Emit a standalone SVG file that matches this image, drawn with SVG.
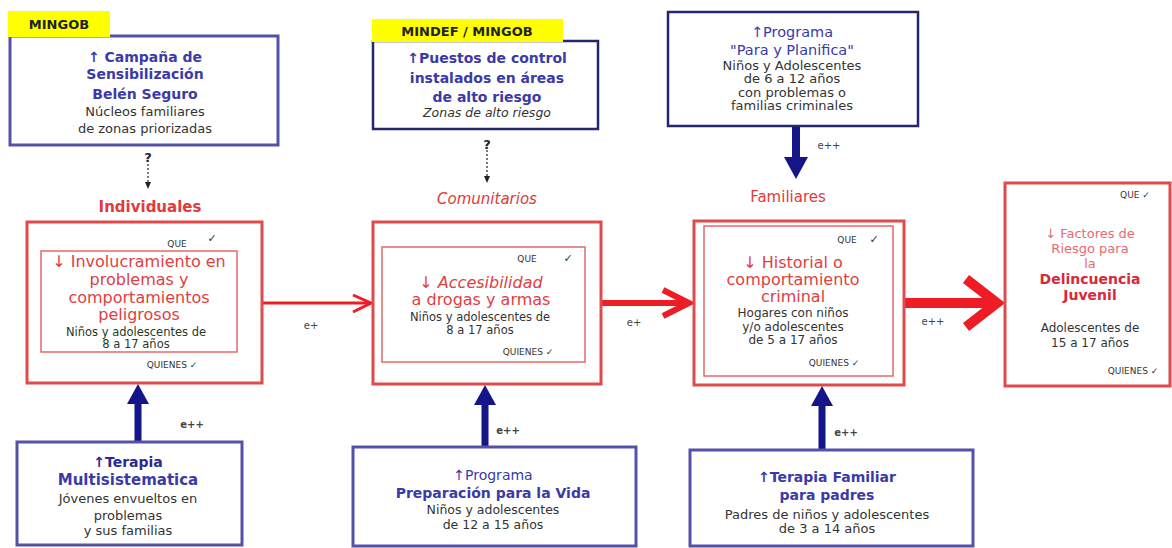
<svg xmlns="http://www.w3.org/2000/svg" width="1172" height="548" viewBox="0 0 1172 548">
<style>
text{font-family:"DejaVu Sans","Liberation Sans",sans-serif;text-anchor:middle}
.bbox{fill:#fff;stroke:#5252a8;stroke-width:3}
.dbox{fill:#fff;stroke:#26266c;stroke-width:2.5}
.rbox{fill:#fff;stroke:#e04a4a;stroke-width:3}
.ibox{fill:none;stroke:#e26a6a;stroke-width:1.5}
.tag{fill:#ffff00}
.tagt{font-size:13px;font-weight:bold;fill:#222}
.bt{font-size:14px;font-weight:bold;fill:#3a3aa8}
.bt2{font-size:14.5px;fill:#3a3aa8}
.body{font-size:13px;fill:#333}
.rt{font-size:16px;fill:#e04040}
.cat{font-size:15px;font-weight:bold;fill:#e23a3a}
.small{font-size:9px;fill:#333}
.chk{font-size:11px;fill:#333}
.lab{font-size:10px;fill:#444}
.red{stroke:#ee1c24;fill:none;stroke-linejoin:miter}
.navy{stroke:#15158a;fill:none}
.navyh{fill:#15158a}
.dash{stroke:#222;stroke-width:1.2;stroke-dasharray:2 2;fill:none}
</style>

<g id="connectors">
  <line class="dash" x1="148" y1="164" x2="148" y2="184"/>
  <polygon points="145,182 151,182 148,189" fill="#222"/>
  <text x="148" y="162" style="font-size:13px;font-weight:bold;fill:#222">?</text>
  <line class="dash" x1="487" y1="150" x2="487" y2="178"/>
  <polygon points="484,176 490,176 487,183" fill="#222"/>
  <text x="487" y="149" style="font-size:13px;font-weight:bold;fill:#222">?</text>

  <line class="navy" x1="796" y1="126" x2="796" y2="160" stroke-width="8"/>
  <polygon class="navyh" points="784,157 808,157 796,179"/>
  <text class="lab" x="829" y="149">e++</text>

  <line class="red" x1="262" y1="303" x2="370" y2="303" stroke-width="3"/>
  <polyline class="red" points="353,295 371,303 353,312" stroke-width="3"/>
  <text class="lab" x="311" y="329">e+</text>

  <line class="red" x1="601" y1="303" x2="688" y2="303" stroke-width="6"/>
  <polyline class="red" points="663,290 689,303 663,316" stroke-width="6"/>
  <text class="lab" x="634" y="326">e+</text>

  <line class="red" x1="904" y1="303" x2="996" y2="303" stroke-width="10"/>
  <polyline class="red" points="966,279 997,303 966,327" stroke-width="10"/>
  <text class="lab" x="933" y="325">e++</text>

  <line class="navy" x1="138" y1="442" x2="138" y2="400" stroke-width="7"/>
  <polygon class="navyh" points="127,404 149,404 138,384"/>
  <text class="lab" x="192" y="428" style="font-weight:bold">e++</text>

  <line class="navy" x1="485" y1="447" x2="485" y2="402" stroke-width="7"/>
  <polygon class="navyh" points="474,405 496,405 485,385"/>
  <text class="lab" x="508" y="434" style="font-weight:bold">e++</text>

  <line class="navy" x1="822" y1="450" x2="822" y2="403" stroke-width="7"/>
  <polygon class="navyh" points="811,406 833,406 822,386"/>
  <text class="lab" x="846" y="436" style="font-weight:bold">e++</text>
</g>

<g id="top-mingob">
  <rect class="bbox" x="10" y="36" width="268" height="109"/>
  <rect class="tag" x="8" y="11" width="102" height="26"/>
  <text class="tagt" x="59" y="29">MINGOB</text>
  <text class="bt" x="145" y="62">↑ Campaña de</text>
  <text class="bt" x="145" y="79">Sensibilización</text>
  <text class="bt" x="145" y="99">Belén Seguro</text>
  <text class="body" x="145" y="116">Núcleos familiares</text>
  <text class="body" x="145" y="133">de zonas priorizadas</text>
</g>

<g id="top-mindef">
  <rect class="dbox" x="373" y="41" width="225" height="88"/>
  <rect class="tag" x="372" y="19" width="191" height="23"/>
  <text class="tagt" x="467" y="36">MINDEF / MINGOB</text>
  <text class="bt" x="487" y="63">↑Puestos de control</text>
  <text class="bt" x="487" y="83">instalados  en áreas</text>
  <text class="bt" x="487" y="102">de alto riesgo</text>
  <text class="body" x="487" y="117" style="font-style:italic;font-size:12.5px">Zonas de alto riesgo</text>
</g>

<g id="top-programa">
  <rect class="dbox" x="668" y="12" width="250" height="114"/>
  <text class="bt2" x="792" y="37">↑Programa</text>
  <text class="bt2" x="792" y="55">"Para y Planifica"</text>
  <text class="body" x="792" y="70">Niños y Adolescentes</text>
  <text class="body" x="792" y="83">de 6 a 12 años</text>
  <text class="body" x="792" y="97">con problemas o</text>
  <text class="body" x="792" y="110">familias  criminales</text>
</g>

<g id="individuales">
  <text class="cat" x="150" y="212">Individuales</text>
  <rect class="rbox" x="27" y="222" width="235" height="161"/>
  <rect class="ibox" x="41" y="251" width="196" height="101"/>
  <text class="small" x="177" y="247">QUE</text>
  <text class="chk" x="212" y="242">✓</text>
  <text class="rt" x="139" y="267">↓ Involucramiento en</text>
  <text class="rt" x="139" y="285">problemas y</text>
  <text class="rt" x="139" y="303">comportamientos</text>
  <text class="rt" x="139" y="320">peligrosos</text>
  <text class="body" x="136" y="336" style="font-size:11.5px;fill:#263a26">Niños y adolescentes de</text>
  <text class="body" x="136" y="348" style="font-size:11.5px;fill:#263a26">8 a 17 años</text>
  <text class="small" x="172" y="368">QUIENES ✓</text>
</g>

<g id="comunitarios">
  <text class="cat" x="487" y="204" style="font-style:italic;font-weight:normal">Comunitarios</text>
  <rect class="rbox" x="373" y="222" width="228" height="162"/>
  <rect class="ibox" x="382" y="247" width="203" height="115"/>
  <text class="small" x="527" y="262">QUE</text>
  <text class="chk" x="568" y="262">✓</text>
  <text class="rt" x="481" y="288" style="font-style:italic">↓ Accesibilidad</text>
  <text class="rt" x="481" y="305">a drogas y armas</text>
  <text class="body" x="480" y="321" style="font-size:11.5px">Niños y adolescentes de</text>
  <text class="body" x="480" y="334" style="font-size:11.5px">8 a 17 años</text>
  <text class="small" x="528" y="355">QUIENES ✓</text>
</g>

<g id="familiares">
  <text class="cat" x="788" y="202" style="font-weight:normal">Familiares</text>
  <rect class="rbox" x="694" y="221" width="210" height="164"/>
  <rect class="ibox" x="704" y="226" width="189" height="150"/>
  <text class="small" x="847" y="243">QUE</text>
  <text class="chk" x="874" y="243">✓</text>
  <text class="rt" x="793" y="268">↓ Historial o</text>
  <text class="rt" x="793" y="285">comportamiento</text>
  <text class="rt" x="793" y="302">criminal</text>
  <text class="body" x="793" y="317" style="font-size:12px">Hogares con niños</text>
  <text class="body" x="793" y="331" style="font-size:12px">y/o adolescentes</text>
  <text class="body" x="793" y="344" style="font-size:12px">de 5 a 17 años</text>
  <text class="small" x="834" y="366">QUIENES ✓</text>
</g>

<g id="delincuencia">
  <rect class="rbox" x="1005" y="183" width="165" height="203"/>
  <text class="small" x="1135" y="198">QUE ✓</text>
  <text class="rt" x="1090" y="238" style="font-size:13px;fill:#e86a70">↓ Factores de</text>
  <text class="rt" x="1090" y="253" style="font-size:13px;fill:#e86a70">Riesgo para</text>
  <text class="rt" x="1090" y="268" style="font-size:13px;fill:#e86a70">la</text>
  <text class="rt" x="1090" y="284" style="font-size:14px;font-weight:bold;fill:#d8283a">Delincuencia</text>
  <text class="rt" x="1090" y="300" style="font-size:14px;font-weight:bold;fill:#d8283a">Juvenil</text>
  <text class="body" x="1090" y="332" style="font-size:12px">Adolescentes de</text>
  <text class="body" x="1090" y="347" style="font-size:12px">15 a 17 años</text>
  <text class="small" x="1133" y="374">QUIENES ✓</text>
</g>

<g id="bottom-multisistematica">
  <rect class="bbox" x="17" y="442" width="225" height="103"/>
  <text class="bt" x="128" y="467" style="fill:#2a2a90">↑Terapia</text>
  <text class="bt" x="128" y="485" style="font-size:15px">Multisistematica</text>
  <text class="body" x="128" y="503">Jóvenes envueltos en</text>
  <text class="body" x="128" y="520">problemas</text>
  <text class="body" x="128" y="535">y sus familias</text>
</g>

<g id="bottom-preparacion">
  <rect class="bbox" x="353" y="447" width="283" height="99"/>
  <text class="bt" x="493" y="480" style="font-weight:normal">↑Programa</text>
  <text class="bt" x="493" y="498">Preparación para la Vida</text>
  <text class="body" x="493" y="514" style="font-size:12.5px">Niños y adolescentes</text>
  <text class="body" x="493" y="529" style="font-size:12.5px">de 12 a 15 años</text>
</g>

<g id="bottom-familiar">
  <rect class="bbox" x="690" y="450" width="283" height="96"/>
  <text class="bt" x="827" y="482">↑Terapia Familiar</text>
  <text class="bt" x="827" y="500">para padres</text>
  <text class="body" x="827" y="519">Padres de niños y adolescentes</text>
  <text class="body" x="827" y="533">de 3 a 14 años</text>
</g>
</svg>
